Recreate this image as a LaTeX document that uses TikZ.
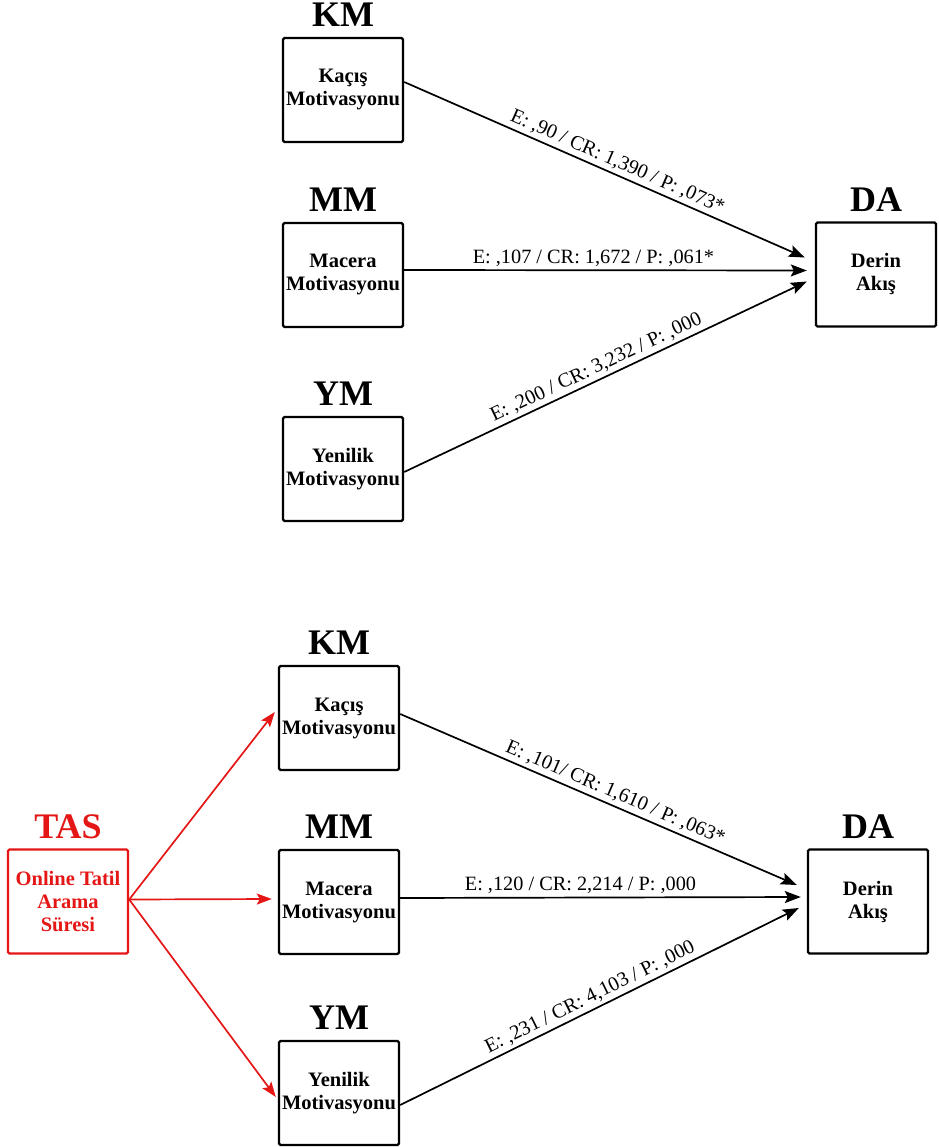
\documentclass[tikz,border=0pt]{standalone}
\usepackage{fontspec}
\setmainfont{Liberation Serif}[BoldFont={Liberation Serif Bold}]
\usetikzlibrary{arrows.meta}
\definecolor{tasred}{RGB}{228,22,22}
\tikzset{
  box/.style={draw, line width=2.4pt, rounded corners=1.5pt, minimum width=120pt, minimum height=104pt,
    align=center, inner sep=0pt, font=\bfseries\fontsize{20.5}{23}\selectfont},
  title/.style={anchor=base, font=\bfseries\fontsize{36}{38}\selectfont},
  path/.style={line width=1.7pt, -{Stealth[length=16pt,width=12pt,inset=3pt]}},
  redpath/.style={line width=1.7pt, draw=tasred, -{Stealth[length=15pt,width=11pt,inset=3pt]}, color=tasred},
  coef/.style={sloped, above=1pt, font=\fontsize{20.3}{22}\selectfont, inner sep=2pt},
}
\begin{document}
\begin{tikzpicture}[x=1pt, y=-1pt]
\useasboundingbox (0,0) rectangle (938,1147);

% ---- model without the mediator ----
\node[box] (KM1) at (343,90)    {Kaçış\\Motivasyonu};
\node[box] (MM1) at (343,275)   {Macera\\Motivasyonu};
\node[box] (YM1) at (343,469)   {Yenilik\\Motivasyonu};
\node[box] (DA1) at (876,274.5) {Derin\\Akış};

\node[title] (KM1t) at ([yshift=10pt]KM1.north) {KM};
\node[title] (MM1t) at ([yshift=10pt]MM1.north) {MM};
\node[title] (YM1t) at ([yshift=10pt]YM1.north) {YM};
\node[title] (DA1t) at ([yshift=10pt]DA1.north) {DA};

\draw[path] ([yshift=8pt]KM1.east) -- node[coef, pos=0.52] {E: ,90 / CR: 1,390 / P: ,073*} ([shift={(-10pt,17pt)}]DA1.west);
\draw[path] ([yshift=5pt]MM1.east) -- node[coef, pos=0.47] {E: ,107 / CR: 1,672 / P: ,061*} ([shift={(-8pt,4pt)}]DA1.west);
\draw[path] ([yshift=-3pt]YM1.east) -- node[coef, pos=0.49] {E: ,200 / CR: 3,232 / P: ,000} ([shift={(-8pt,-7pt)}]DA1.west);

% ---- model with online search time ----
\node[box] (KM2) at (339,718)   {Kaçış\\Motivasyonu};
\node[box] (MM2) at (339,902)   {Macera\\Motivasyonu};
\node[box] (YM2) at (339,1093)  {Yenilik\\Motivasyonu};
\node[box] (DA2) at (868,901.5) {Derin\\Akış};
\node[box, draw=tasred, text=tasred] (TAS) at (68,901.5) {Online Tatil\\Arama\\Süresi};

\node[title] (KM2t) at ([yshift=10pt]KM2.north) {KM};
\node[title] (MM2t) at ([yshift=10pt]MM2.north) {MM};
\node[title] (YM2t) at ([yshift=10pt]YM2.north) {YM};
\node[title] (DA2t) at ([yshift=10pt]DA2.north) {DA};
\node[title, text=tasred] (TASt) at ([yshift=10pt]TAS.north) {TAS};

\draw[redpath] ([yshift=2pt]TAS.east) -- ([shift={(-3pt,6pt)}]KM2.west);
\draw[redpath] ([yshift=2pt]TAS.east) -- ([shift={(-6pt,3pt)}]MM2.west);
\draw[redpath] ([yshift=2pt]TAS.east) -- ([shift={(-2pt,-4pt)}]YM2.west);

\draw[path] ([yshift=4pt]KM2.east) -- node[coef, pos=0.53] {E: ,101/ CR: 1,610 / P: ,063*} ([shift={(-10pt,16.5pt)}]DA2.west);
\draw[path] ([yshift=4pt]MM2.east) -- node[coef, pos=0.45] {E: ,120 / CR: 2,214 / P: ,000} ([shift={(-6pt,4.5pt)}]DA2.west);
\draw[path] ([yshift=-12pt]YM2.east) -- node[coef, pos=0.49] {E: ,231 / CR: 4,103 / P: ,000} ([shift={(-8pt,-6.5pt)}]DA2.west);
\end{tikzpicture}
\end{document}
